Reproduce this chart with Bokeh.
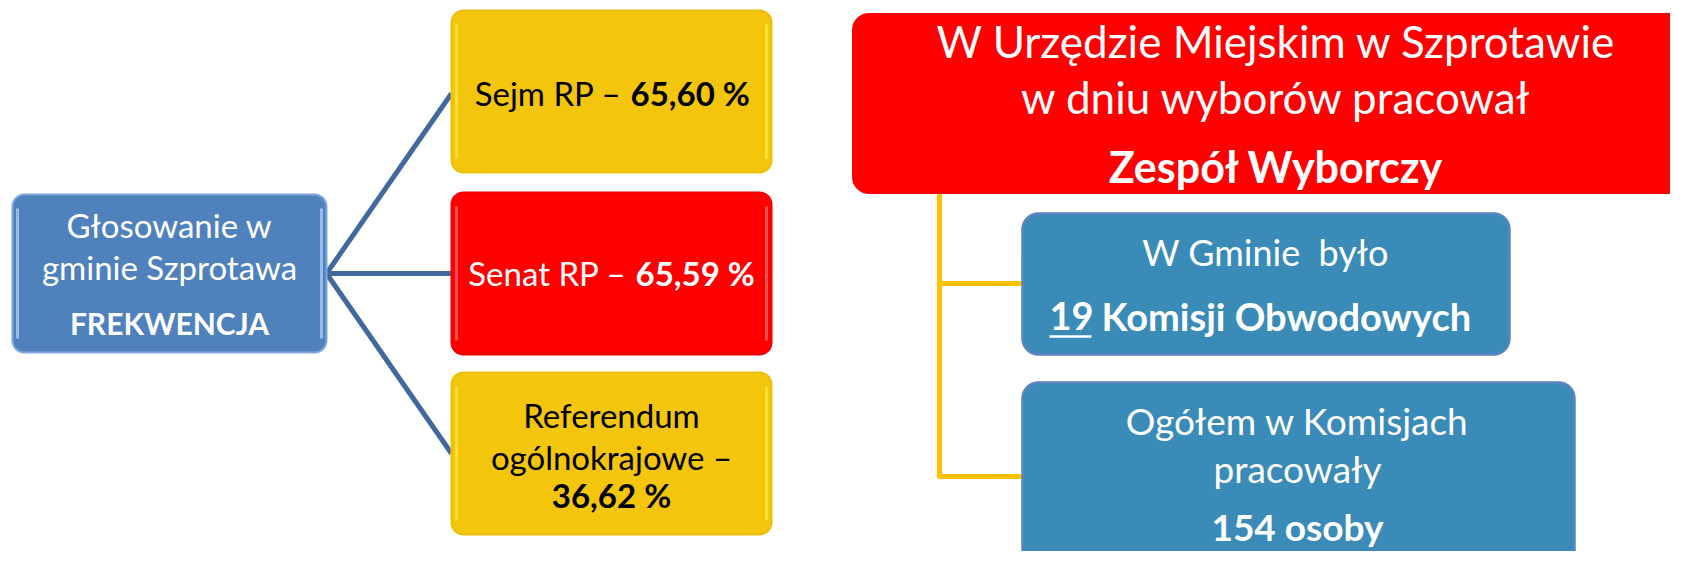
from bokeh.plotting import figure
from bokeh.models import Range1d
from bokeh.core.properties import value
from bokeh.embed import file_html
from bokeh.resources import INLINE

# ---- data ----
root_lines = ["Głosowanie w", "gminie Szprotawa"]
root_bold = "FREKWENCJA"
turnout_labels = ["Sejm RP –", "Senat RP –"]
turnout_values = ["65,60 %", "65,59 %"]
referendum_lines = ["Referendum", "ogólnokrajowe –"]
referendum_value = "36,62 %"
header_lines = ["W Urzędzie Miejskim w Szprotawie", "w dniu wyborów pracował"]
header_bold = "Zespół Wyborczy"
commission_intro = "W Gminie\u00a0 było"
commission_count = "19"
commission_label = "Komisji Obwodowych"
people_lines = ["Ogółem w Komisjach", "pracowały"]
people_bold = "154 osoby"

FONT = value("Lato")
YELLOW = "#F3C50D"
RED = "#FF0000"
BLUE_L = "#4F81BD"
BLUE_R = "#3A8BB8"

p = figure(width=1670, height=551, x_range=Range1d(0, 1670), y_range=Range1d(551, 0),
           output_backend="svg", toolbar_location=None, min_border=0)
p.axis.visible = False
p.grid.visible = False
p.outline_line_color = None
p.background_fill_color = "white"
p.border_fill_color = "white"

# connectors
p.segment(x0=[326, 326, 326], y0=[273, 273, 273], x1=[451, 451, 451], y1=[93, 273, 453],
          line_color="#41699E", line_width=5)
p.segment(x0=[939, 939, 939], y0=[192, 283, 476], x1=[939, 1024, 1024], y1=[478, 283, 476],
          line_color="#FFC000", line_width=5)

# boxes
p.quad(left=[12], right=[326], top=[194], bottom=[352], fill_color=BLUE_L,
       line_color="#7FA6DA", line_width=2, border_radius=12)
p.quad(left=[451, 451], right=[771, 771], top=[10, 372], bottom=[172, 534], fill_color=YELLOW,
       line_color="#EDBE0A", line_width=2, border_radius=12)
p.quad(left=[451], right=[771], top=[192], bottom=[354], fill_color=RED,
       line_color="#F20000", line_width=2, border_radius=12)
# bevel highlights
p.segment(x0=[17, 321], y0=[208, 208], x1=[17, 321], y1=[338, 338],
          line_color="#A9CBF2", line_width=3, line_alpha=0.8)
p.segment(x0=[456, 766, 456, 766], y0=[24, 24, 386, 386], x1=[456, 766, 456, 766], y1=[158, 158, 520, 520],
          line_color="#FFE23A", line_width=3, line_alpha=0.9)
p.segment(x0=[456, 766], y0=[206, 206], x1=[456, 766], y1=[340, 340],
          line_color="#FF5A5A", line_width=3, line_alpha=0.9)

p.quad(left=[852], right=[1700], top=[13], bottom=[193], fill_color=RED,
       line_color=RED, line_width=1, border_radius=16)
p.quad(left=[1022, 1022], right=[1509, 1574], top=[213, 382], bottom=[354, 585], fill_color=BLUE_R,
       line_color="#5A84C0", line_width=2.5, border_radius=16)

def txt(x, y, s, size, color="white", bold=False, align="center"):
    p.text(x=[x], y=[y], text=[s], text_font=FONT, text_font_size=f"{size}px",
           text_font_style="bold" if bold else "normal", text_color=color,
           text_align=align, text_baseline="middle")

# left
txt(169, 224, root_lines[0], 33)
txt(169, 266, root_lines[1], 33)
txt(169, 322, root_bold, 30, bold=True)

txt(621, 92, turnout_labels[0], 33, color="black", align="right")
txt(630, 92, turnout_values[0], 33, color="black", bold=True, align="left")
txt(626, 272, turnout_labels[1], 33, align="right")
txt(635, 272, turnout_values[1], 33, bold=True, align="left")

txt(611, 414, referendum_lines[0], 33, color="black")
txt(611, 456, referendum_lines[1], 33, color="black")
txt(611, 494, referendum_value, 33, color="black", bold=True)

# right
txt(1276, 40, header_lines[0], 44)
txt(1276, 96, header_lines[1], 44)
txt(1276, 166, header_bold, 43, bold=True)

txt(1265, 251, commission_intro, 36)
txt(1049, 315, commission_count, 38, bold=True, align="left")
p.segment(x0=[1049], y0=[336], x1=[1091], y1=[336], line_color="white", line_width=2.5)
txt(1101, 315, commission_label, 38, bold=True, align="left")

txt(1297, 420, people_lines[0], 37)
txt(1297, 468, people_lines[1], 37)
txt(1297, 526, people_bold, 37, bold=True)

open("out.html", "w").write(file_html(p, INLINE))
